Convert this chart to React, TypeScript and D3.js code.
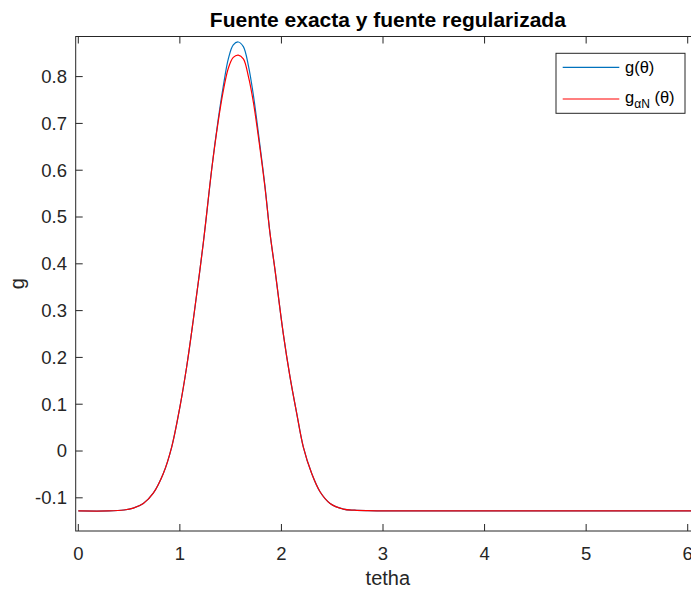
import React from "react";
import * as d3 from "d3";

const theta = [0, 0.3, 0.45, 0.541, 0.64, 0.738, 0.837, 0.92, 1.001, 1.067, 1.132, 1.231, 1.313, 1.378, 1.428, 1.477, 1.526, 1.575, 1.625, 1.675, 1.724, 1.789, 1.838, 1.887, 1.936, 2.018, 2.084, 2.15, 2.215, 2.298, 2.38, 2.479, 2.609, 2.72, 2.85, 3.1, 3.5, 4.5, 5.5, 6.3];
const gExact = [-0.128, -0.128, -0.126, -0.122, -0.112, -0.09, -0.048, 0.009, 0.095, 0.18, 0.28, 0.445, 0.602, 0.709, 0.78, 0.838, 0.868, 0.874, 0.864, 0.823, 0.76, 0.652, 0.566, 0.466, 0.388, 0.251, 0.159, 0.081, 0.009, -0.048, -0.087, -0.112, -0.124, -0.1265, -0.1275, -0.128, -0.128, -0.128, -0.128, -0.128];
const gReg = [-0.128, -0.128, -0.126, -0.122, -0.112, -0.09, -0.048, 0.009, 0.095, 0.18, 0.28, 0.445, 0.601, 0.705, 0.77, 0.818, 0.841, 0.846, 0.838, 0.8, 0.745, 0.646, 0.563, 0.466, 0.388, 0.251, 0.159, 0.081, 0.009, -0.048, -0.087, -0.112, -0.124, -0.1265, -0.1275, -0.128, -0.128, -0.128, -0.128, -0.128];
const xTicks = [0, 1, 2, 3, 4, 5, 6];
const yTicks = [-0.1, 0, 0.1, 0.2, 0.3, 0.4, 0.5, 0.6, 0.7, 0.8];
const titleText = "Fuente exacta y fuente regularizada";
const xLabel = "tetha";
const yLabel = "g";

const W = 691, H = 591;
const L = 75.7, R = 700, T = 36.5, B = 531;
const font = "'Liberation Sans', Arial, Helvetica, sans-serif";
const axisColor = "#262626";

export default function App() {
  const x = d3.scaleLinear().domain([-0.0256, 6.121]).range([L, R]);
  const y = d3.scaleLinear().domain([-0.1709, 0.8857]).range([B, T]);
  const mk = (vals: number[]) =>
    d3
      .line<number>()
      .x((_, i) => x(theta[i]))
      .y((d) => y(d))
      .curve(d3.curveCatmullRom.alpha(0.5))(vals) || "";
  const pExact = mk(gExact);
  const pReg = mk(gReg);
  const tl = 7;
  const fmt = (v: number) => (Math.abs(v) < 1e-9 ? "0" : d3.format(".1f")(v).replace("−", "-"));

  return (
    <svg width={W} height={H} style={{ position: "absolute", left: 0, top: 0, display: "block", background: "#fff" }}>
      <defs>
        <clipPath id="plotclip">
          <rect x={L} y={T} width={R - L} height={B - T} />
        </clipPath>
      </defs>
      <rect x={0} y={0} width={W} height={H} fill="#fff" />
      <g clipPath="url(#plotclip)">
        <path d={pExact} fill="none" stroke="#0072BD" strokeWidth={1.2} />
        <path d={pReg} fill="none" stroke="#FF0000" strokeWidth={1.2} />
      </g>
      <rect x={L} y={T} width={R - L} height={B - T} fill="none" stroke={axisColor} strokeWidth={1} />
      {xTicks.map((t) => (
        <g key={"x" + t}>
          <line x1={x(t)} x2={x(t)} y1={B} y2={B - tl} stroke={axisColor} strokeWidth={1} />
          <line x1={x(t)} x2={x(t)} y1={T} y2={T + tl} stroke={axisColor} strokeWidth={1} />
          <text x={x(t)} y={559.5} textAnchor="middle" fontFamily={font} fontSize={18.5} fill={axisColor}>
            {t}
          </text>
        </g>
      ))}
      {yTicks.map((t) => (
        <g key={"y" + t}>
          <line x1={L} x2={L + tl} y1={y(t)} y2={y(t)} stroke={axisColor} strokeWidth={1} />
          <line x1={R} x2={R - tl} y1={y(t)} y2={y(t)} stroke={axisColor} strokeWidth={1} />
          <text x={67} y={y(t)} dy="0.35em" textAnchor="end" fontFamily={font} fontSize={18.5} fill={axisColor}>
            {fmt(t)}
          </text>
        </g>
      ))}
      <text x={(L + R) / 2} y={27.3} textAnchor="middle" fontFamily={font} fontSize={21} fontWeight="bold" fill="#000">
        {titleText}
      </text>
      <text x={(L + R) / 2} y={585} textAnchor="middle" fontFamily={font} fontSize={20} fill={axisColor}>
        {xLabel}
      </text>
      <text transform={`translate(24,${(T + B) / 2}) rotate(-90)`} textAnchor="middle" fontFamily={font} fontSize={20} fill={axisColor}>
        {yLabel}
      </text>
      <g>
        <rect x={556} y={53.3} width={129} height={60} fill="#fff" stroke={axisColor} strokeWidth={1} />
        <line x1={562.7} x2={619.3} y1={67.3} y2={67.3} stroke="#0072BD" strokeWidth={1.2} />
        <line x1={562.7} x2={619.3} y1={99} y2={99} stroke="#FF0000" strokeWidth={1.2} />
        <text x={625} y={73} fontFamily={font} fontSize={16.5} fill="#000">
          g(θ)
        </text>
        <text x={625} y={103} fontFamily={font} fontSize={16.5} fill="#000">
          g
          <tspan fontSize={12} dy={5}>αN</tspan>
          <tspan dy={-5}> (θ)</tspan>
        </text>
      </g>
    </svg>
  );
}
